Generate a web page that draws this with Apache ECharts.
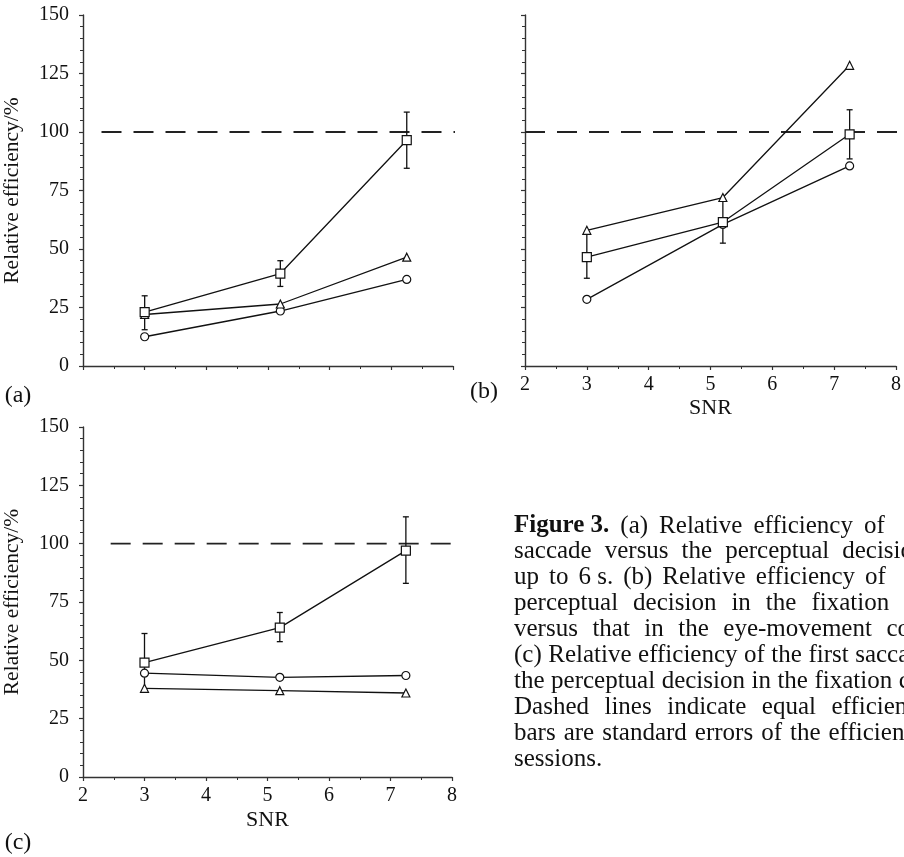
<!DOCTYPE html>
<html>
<head>
<meta charset="utf-8">
<script src="https://cdn.jsdelivr.net/npm/echarts@6/dist/echarts.min.js"></script>
<style>
  html, body { margin: 0; padding: 0; background: #fff; }
  #chart { width: 904px; height: 857px; }
</style>
</head>
<body>
<div id="chart"></div>
<script>
// SNR values shared by all three panels
const snr = [3, 5.2, 7.25]

// (a)
const aSquare = [23, 39.5, 96.5]
const aSquareLo = [15.5, 34, 84.5]
const aSquareHi = [30, 45, 108.5]
const aTriangle = [22, 26.5, 46.5]
const aCircle = [12.5, 23.5, 37]

// (b)
const bSquare = [46.5, 61.5, 99]
const bSquareLo = [37.5, 52.5, 88.5]
const bSquareHi = [56.5, 71, 109.5]
const bTriangle = [58, 72, 128.5]
const bCircle = [28.5, 60.5, 85.5]

// (c)
const cSquare = [49, 64, 97]
const cSquareLo = [37, 58, 83]
const cSquareHi = [61.5, 70.5, 111.5]
const cCircle = [44.5, 42.7, 43.5]
const cTriangle = [38, 37, 36]

// equal-efficiency line (value 100), x extent per panel
const equalLevel = 100
const equalSpan = [[2.3, 8.04], [2, 8.1], [2.45, 8.15]]

const yTicks = [0, 25, 50, 75, 100, 125, 150]

// caption, as far as it shows inside the picture
const captionLines = [
  { gap: 11, words: ['*Figure 3.', '(a)', 'Relative', 'efficiency', 'of'] },
  { gap: 13, words: ['saccade', 'versus', 'the', 'perceptual', 'decision'] },
  { gap: 10, words: ['up', 'to', '6 s.', '(b)', 'Relative', 'efficiency', 'of'] },
  { gap: 15, words: ['perceptual', 'decision', 'in', 'the', 'fixation', 'condition'] },
  { gap: 14.5, words: ['versus', 'that', 'in', 'the', 'eye-movement', 'condition.'] },
  { gap: 6.5, words: ['(c)', 'Relative', 'efficiency', 'of', 'the', 'first', 'saccade', 'versus'] },
  { gap: 6.5, words: ['the', 'perceptual', 'decision', 'in', 'the', 'fixation', 'condition.'] },
  { gap: 15.5, words: ['Dashed', 'lines', 'indicate', 'equal', 'efficiency.', 'Error'] },
  { gap: 8, words: ['bars', 'are', 'standard', 'errors', 'of', 'the', 'efficiency', 'across'] },
  { gap: 6.5, words: ['sessions.'] }
]

const FONT = 'Liberation Serif'
const INK = '#111'

const chart = echarts.init(document.getElementById('chart'))

const grids = [
  { left: 78, top: 15, width: 375, height: 351 },
  { left: 525, top: 15, width: 375, height: 351 },
  { left: 77, top: 427, width: 375, height: 350 }
]

function pts(ys) {
  return snr.map((x, i) => [x, ys[i]])
}

function xAxisFor(i) {
  return {
    type: 'value',
    gridIndex: i,
    min: 2,
    max: 8,
    interval: 1,
    name: i === 0 ? '' : 'SNR',
    nameLocation: 'middle',
    nameGap: i === 1 ? 31 : 32,
    nameTextStyle: { fontFamily: FONT, fontSize: 22, color: INK },
    axisLine: { lineStyle: { color: '#333', width: 1.4 } },
    axisTick: { length: 4, lineStyle: { color: '#333', width: 1.2 } },
    minorTick: { show: true, splitNumber: 2, length: 3, lineStyle: { color: '#333', width: 1 } },
    splitLine: { show: false },
    axisLabel: {
      show: i !== 0,
      margin: 9,
      fontFamily: FONT,
      fontSize: 20,
      color: INK
    }
  }
}

function yAxisFor(i) {
  return {
    type: 'value',
    gridIndex: i,
    min: 0,
    max: 150,
    interval: 25,
    name: i === 1 ? '' : 'Relative efficiency/%',
    nameLocation: 'middle',
    nameGap: 60,
    nameRotate: 90,
    nameTextStyle: { fontFamily: FONT, fontSize: 21.5, color: INK },
    axisLine: { show: true, lineStyle: { color: '#333', width: 1.4 } },
    axisTick: { length: 4, lineStyle: { color: '#333', width: 1.2 } },
    minorTick: { show: true, splitNumber: 5, length: 3, lineStyle: { color: '#333', width: 1 } },
    splitLine: { show: false },
    axisLabel: {
      show: i !== 1,
      margin: 14,
      fontFamily: FONT,
      fontSize: 20,
      color: INK,
      formatter: v => (yTicks.indexOf(v) >= 0 ? String(v) : '')
    }
  }
}

function markerSeries(i, ys, symbol, size) {
  return {
    type: 'line',
    xAxisIndex: i,
    yAxisIndex: i,
    data: pts(ys),
    symbol: symbol,
    symbolSize: size,
    showSymbol: true,
    z: 4,
    lineStyle: { color: INK, width: 1.3 },
    itemStyle: { color: '#fff', borderColor: INK, borderWidth: 1.2 },
    silent: true
  }
}

function errorSeries(i, lo, hi) {
  return {
    type: 'custom',
    xAxisIndex: i,
    yAxisIndex: i,
    z: 3,
    data: snr.map((x, k) => [x, lo[k], hi[k]]),
    encode: { x: 0, y: [1, 2] },
    renderItem: function (params, api) {
      const x = api.value(0)
      const p1 = api.coord([x, api.value(1)])
      const p2 = api.coord([x, api.value(2)])
      const w = 3
      const st = { stroke: INK, lineWidth: 1.3 }
      return {
        type: 'group',
        children: [
          { type: 'line', shape: { x1: p1[0], y1: p1[1], x2: p2[0], y2: p2[1] }, style: st },
          { type: 'line', shape: { x1: p1[0] - w, y1: p1[1], x2: p1[0] + w, y2: p1[1] }, style: st },
          { type: 'line', shape: { x1: p2[0] - w, y1: p2[1], x2: p2[0] + w, y2: p2[1] }, style: st }
        ]
      }
    }
  }
}

function equalSeries(i) {
  return {
    type: 'line',
    xAxisIndex: i,
    yAxisIndex: i,
    data: equalSpan[i].map(x => [x, equalLevel]),
    symbol: 'none',
    clip: false,
    z: 2,
    lineStyle: { color: '#222', width: 1.9, type: [20, 12] },
    silent: true
  }
}

const series = [
  equalSeries(0),
  errorSeries(0, aSquareLo, aSquareHi),
  markerSeries(0, aCircle, 'circle', 8),
  markerSeries(0, aTriangle, 'triangle', 8),
  markerSeries(0, aSquare, 'rect', 9),

  equalSeries(1),
  errorSeries(1, bSquareLo, bSquareHi),
  markerSeries(1, bCircle, 'circle', 8),
  markerSeries(1, bSquare, 'rect', 9),
  markerSeries(1, bTriangle, 'triangle', 8),

  equalSeries(2),
  errorSeries(2, cSquareLo, cSquareHi),
  markerSeries(2, cTriangle, 'triangle', 8),
  markerSeries(2, cCircle, 'circle', 8),
  markerSeries(2, cSquare, 'rect', 9)
]

// caption: lay the words out with the measured widths and per-line spacing
const measureCtx = document.createElement('canvas').getContext('2d')
const CAP_SIZE = 25
const capElements = []
captionLines.forEach((line, li) => {
  let x = 514
  const y = 526 + li * 25.9
  line.words.forEach(w => {
    const bold = w[0] === '*'
    const text = bold ? w.slice(1) : w
    const font = (bold ? 'bold ' : '') + CAP_SIZE + 'px "' + FONT + '"'
    measureCtx.font = font
    capElements.push({
      type: 'text',
      x: x,
      y: y,
      silent: true,
      style: {
        text: text,
        font: font,
        fill: INK,
        verticalAlign: 'middle',
        align: 'left'
      }
    })
    x += measureCtx.measureText(text).width + line.gap
  })
})

const panelLabels = [
  { text: '(a)', x: 18, y: 396 },
  { text: '(b)', x: 484, y: 392 },
  { text: '(c)', x: 18, y: 843 }
].map(p => ({
  type: 'text',
  x: p.x,
  y: p.y,
  silent: true,
  style: {
    text: p.text,
    font: '24px "' + FONT + '"',
    fill: INK,
    align: 'center',
    verticalAlign: 'middle'
  }
}))

const option = {
  backgroundColor: '#fff',
  animation: false,
  grid: grids,
  xAxis: [0, 1, 2].map(xAxisFor),
  yAxis: [0, 1, 2].map(yAxisFor),
  series: series,
  graphic: panelLabels.concat(capElements)
}

chart.setOption(option)
</script>
</body>
</html>
